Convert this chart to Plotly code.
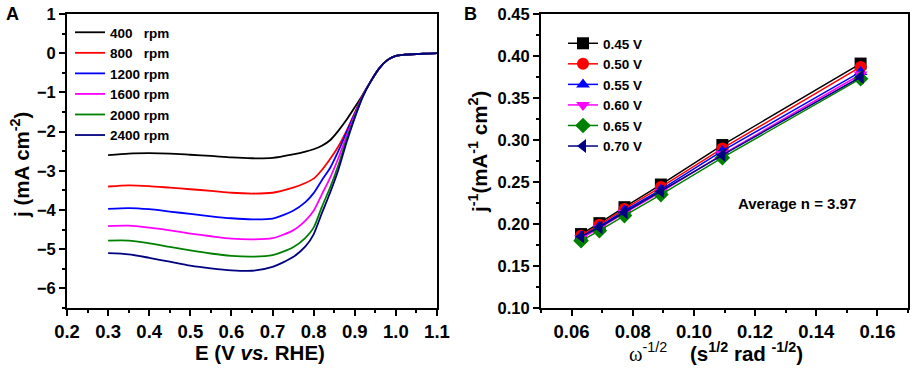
import plotly.graph_objects as go

# ---------------- Panel A data (LSV curves) ----------------
E_V = [0.30, 0.35, 0.40, 0.45, 0.50, 0.55, 0.60, 0.65, 0.70, 0.75, 0.78, 0.80, 0.82,
       0.84, 0.86, 0.88, 0.90, 0.92, 0.94, 0.96, 0.98, 1.00, 1.02, 1.05, 1.08, 1.10]
j_400 = [-2.60, -2.56, -2.55, -2.56, -2.59, -2.62, -2.66, -2.68, -2.67, -2.58, -2.51, -2.45, -2.36,
         -2.22, -1.98, -1.70, -1.38, -1.05, -0.70, -0.38, -0.17, -0.07, -0.04, -0.02, -0.01, 0.0]
j_800 = [-3.40, -3.37, -3.39, -3.43, -3.47, -3.51, -3.56, -3.58, -3.56, -3.43, -3.31, -3.20, -2.98,
         -2.70, -2.38, -1.98, -1.52, -1.06, -0.70, -0.38, -0.17, -0.07, -0.04, -0.02, -0.01, 0.0]
j_1200 = [-3.97, -3.95, -3.98, -4.04, -4.10, -4.16, -4.21, -4.24, -4.22, -4.02, -3.80, -3.57, -3.24,
          -2.93, -2.50, -2.02, -1.55, -1.07, -0.70, -0.38, -0.17, -0.07, -0.04, -0.02, -0.01, 0.0]
j_1600 = [-4.41, -4.40, -4.45, -4.52, -4.60, -4.67, -4.73, -4.75, -4.72, -4.52, -4.27, -4.02, -3.60,
          -3.18, -2.68, -2.12, -1.58, -1.08, -0.70, -0.38, -0.17, -0.07, -0.04, -0.02, -0.01, 0.0]
j_2000 = [-4.78, -4.78, -4.85, -4.94, -5.03, -5.11, -5.17, -5.19, -5.15, -4.95, -4.71, -4.45, -3.92,
          -3.43, -2.86, -2.20, -1.62, -1.09, -0.70, -0.38, -0.17, -0.07, -0.04, -0.02, -0.01, 0.0]
j_2400 = [-5.10, -5.13, -5.22, -5.32, -5.42, -5.49, -5.54, -5.55, -5.45, -5.20, -4.93, -4.62, -4.08,
          -3.56, -2.98, -2.28, -1.65, -1.10, -0.70, -0.38, -0.17, -0.07, -0.04, -0.02, -0.01, 0.0]
lsv_names = ["400\u00a0\u00a0\u00a0rpm", "800\u00a0\u00a0\u00a0rpm", "1200 rpm",
             "1600 rpm", "2000 rpm", "2400 rpm"]
lsv_series = [j_400, j_800, j_1200, j_1600, j_2000, j_2400]

# ---------------- Panel B data (K-L plots) ----------------
omega_inv_sqrt = [0.0631, 0.0691, 0.0773, 0.0892, 0.1093, 0.1545]
jinv_045 = [0.188, 0.201, 0.220, 0.247, 0.294, 0.391]
jinv_050 = [0.186, 0.199, 0.218, 0.244, 0.290, 0.387]
jinv_055 = [0.185, 0.197, 0.216, 0.241, 0.287, 0.381]
jinv_060 = [0.183, 0.195, 0.213, 0.238, 0.283, 0.378]
jinv_065 = [0.180, 0.192, 0.210, 0.235, 0.279, 0.373]
jinv_070 = [0.185, 0.196, 0.214, 0.239, 0.282, 0.375]
kl_names = ["0.45 V", "0.50 V", "0.55 V", "0.60 V", "0.65 V", "0.70 V"]
kl_series = [jinv_045, jinv_050, jinv_055, jinv_060, jinv_065, jinv_070]

colors = ["#000000", "#ff0000", "#0000ff", "#ff00ff", "#008000", "#000080"]
symbols = ["square", "circle", "triangle-up", "triangle-down", "diamond", "triangle-left"]

FONT = "Liberation Sans, Arial, sans-serif"
W, H = 913, 368


def px(x):
    return x / W


def py(y):
    return 1 - y / H


fig = go.Figure()

for name, ys, c in zip(lsv_names, lsv_series, colors):
    fig.add_trace(go.Scatter(
        x=E_V, y=ys, mode="lines", name=name,
        line=dict(color=c, width=1.8, shape="spline", smoothing=0.7),
        xaxis="x", yaxis="y", legend="legend"))

for name, ys, c, s in zip(kl_names, kl_series, colors, symbols):
    fig.add_trace(go.Scatter(
        x=omega_inv_sqrt, y=ys, mode="lines+markers", name=name,
        line=dict(color=c, width=1.5),
        marker=dict(color=c, symbol=s, size=12),
        xaxis="x2", yaxis="y2", legend="legend2"))

ydom = [py(308), py(14)]

axis_common = dict(
    showline=True, linecolor="black", linewidth=2, mirror=True,
    ticks="outside", ticklen=6, tickwidth=1.5, tickcolor="black",
    showgrid=False, zeroline=False, ticklabeloverflow="allow",
    automargin=False,
)
xtickfont = dict(family=FONT, size=18.5, color="black", weight="bold")
ytickfont = dict(family=FONT, size=16.5, color="black", weight="bold")
minor_common = dict(ticks="outside", ticklen=3, tickcolor="black", tickwidth=1.5)
title_font = dict(family=FONT, size=20.5, color="black")

fig.update_layout(
    width=W, height=H,
    margin=dict(l=0, r=0, t=0, b=0),
    paper_bgcolor="white", plot_bgcolor="white",
    font=dict(family=FONT, color="black"),
    xaxis=dict(domain=[px(67), px(437)], range=[0.2, 1.1001], dtick=0.1, tick0=0.2,
               tickformat=".1f", minor=dict(dtick=0.05, **minor_common),
               tickfont=xtickfont, anchor="y", **axis_common),
    yaxis=dict(domain=ydom, range=[-6.5, 1.0001], dtick=1, tick0=0,
               minor=dict(dtick=0.5, **minor_common),
               tickfont=ytickfont, anchor="x", **axis_common),
    xaxis2=dict(domain=[px(541), px(908)], range=[0.05, 0.17], dtick=0.02, tick0=0.06,
                tickformat=".2f", minor=dict(dtick=0.01, **minor_common),
                tickfont=xtickfont, anchor="y2", **axis_common),
    yaxis2=dict(domain=ydom, range=[0.10, 0.45001], dtick=0.05, tick0=0.10,
                tickformat=".2f", minor=dict(dtick=0.025, **minor_common),
                tickfont=ytickfont, anchor="x2", **axis_common),
    legend=dict(x=px(70), y=py(17), xanchor="left", yanchor="top",
                bgcolor="rgba(0,0,0,0)",
                font=dict(family=FONT, size=13.5, color="black", weight="bold"),
                itemwidth=30, tracegroupgap=0),
    legend2=dict(x=px(563), y=py(28), xanchor="left", yanchor="top",
                 bgcolor="rgba(0,0,0,0)",
                 font=dict(family=FONT, size=13.5, color="black", weight="bold"),
                 itemwidth=30, tracegroupgap=0),
    annotations=[
        # panel labels
        dict(text="<b>A</b>", x=px(4), y=py(2), xref="paper", yref="paper",
             xanchor="left", yanchor="top", showarrow=False,
             font=dict(family=FONT, size=18, color="black")),
        dict(text="<b>B</b>", x=px(462), y=py(2), xref="paper", yref="paper",
             xanchor="left", yanchor="top", showarrow=False,
             font=dict(family=FONT, size=18, color="black")),
        # axis titles
        dict(text="<b>E (V <i>vs.</i> RHE)</b>", x=px(260), y=py(352), xref="paper", yref="paper",
             xanchor="center", yanchor="middle", showarrow=False, font=title_font),
        dict(text="<b>j (mA cm<sup>-2</sup>)</b>", x=px(20), y=py(165), xref="paper", yref="paper",
             xanchor="center", yanchor="middle", textangle=-90, showarrow=False, font=title_font),
        dict(text="<span style=\"font-family:Liberation Serif;\">ω</span><sup>-1/2</sup>"
                  "\u00a0\u00a0\u00a0\u00a0<b>(s<sup>1/2</sup> rad <sup>-1/2</sup>)</b>",
             x=px(716), y=py(352), xref="paper", yref="paper",
             xanchor="center", yanchor="middle", showarrow=False, font=title_font),
        dict(text="<b>j<sup>-1</sup>(mA<sup>-1</sup> cm<sup>2</sup>)</b>", x=px(478), y=py(152),
             xref="paper", yref="paper", xanchor="center", yanchor="middle",
             textangle=-90, showarrow=False, font=title_font),
        # in-plot note
        dict(text="<b>Average n = 3.97</b>", x=0.1337, y=0.224, xref="x2", yref="y2",
             showarrow=False, font=dict(family=FONT, size=15, color="black")),
    ],
)

fig.write_html(
    "out.html",
    config={"displayModeBar": False},
    post_script=("document.body.style.margin='0';"
                 "var gd=document.getElementById('{plot_id}');"
                 "Plotly.relayout(gd, {'yaxis.ticklabeloverflow':'allow',"
                 "'yaxis2.ticklabeloverflow':'allow'});"),
)
